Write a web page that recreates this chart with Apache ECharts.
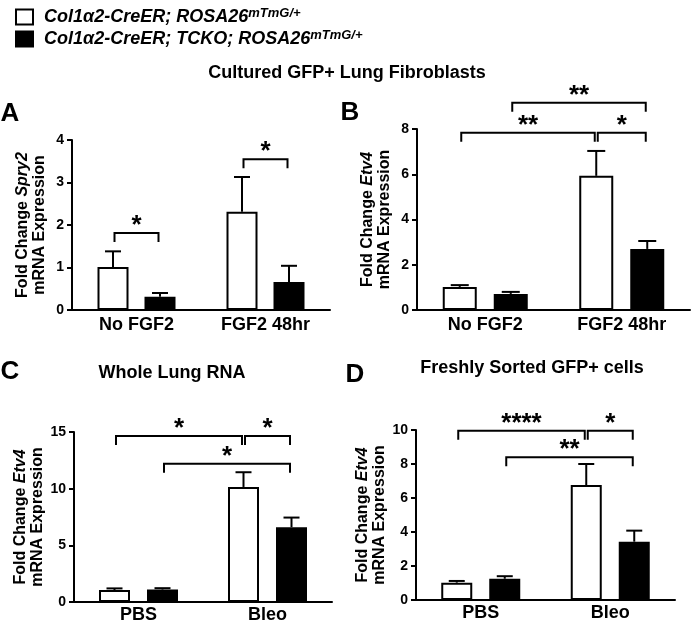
<!DOCTYPE html>
<html><head><meta charset="utf-8">
<script src="https://cdn.jsdelivr.net/npm/echarts@6/dist/echarts.min.js"></script>
<style>html,body{margin:0;padding:0;background:#fff}#c{width:693px;height:627px}</style>
</head><body><div id="c"></div>
<script>
// ---------- DATA ----------
const seriesNames = ['Col1α2-CreER; ROSA26mTmG/+', 'Col1α2-CreER; TCKO; ROSA26mTmG/+'];

const catsAB = ['No FGF2', 'FGF2 48hr'];
const catsCD = ['PBS', 'Bleo'];

// Panel A (Spry2, cultured fibroblasts)
const aControl = [1.01, 2.31];
const aControlErr = [0.37, 0.82];
const aTcko = [0.31, 0.66];
const aTckoErr = [0.09, 0.38];
const aTicks = [0, 1, 2, 3, 4];
// [catFrom, seriesFrom, catTo, seriesTo, level, label]
const aBrackets = [[0, 0, 0, 1, 1.81, '*'], [1, 0, 1, 1, 3.55, '*']];

// Panel B (Etv4, cultured fibroblasts)
const bControl = [1.02, 5.93];
const bControlErr = [0.08, 1.10];
const bTcko = [0.71, 2.70];
const bTckoErr = [0.09, 0.35];
const bTicks = [0, 2, 4, 6, 8];
const bBrackets = [[0, 0, 1, 0, 7.83, '**'], [1, 0, 1, 1, 7.83, '*'], [0, 1, 1, 1, 9.16, '**']];

// Panel C (Etv4, whole lung RNA)
const cControl = [1.05, 10.15];
const cControlErr = [0.15, 1.30];
const cTcko = [1.10, 6.60];
const cTckoErr = [0.12, 0.85];
const cTicks = [0, 5, 10, 15];
const cBrackets = [[0, 0, 1, 0, 14.65, '*'], [1, 0, 1, 1, 14.65, '*'], [0, 1, 1, 1, 12.2, '*']];

// Panel D (Etv4, freshly sorted GFP+ cells)
const dControl = [1.02, 6.76];
const dControlErr = [0.10, 1.24];
const dTcko = [1.25, 3.43];
const dTckoErr = [0.15, 0.65];
const dTicks = [0, 2, 4, 6, 8, 10];
const dBrackets = [[0, 0, 1, 0, 9.95, '****'], [1, 0, 1, 1, 9.95, '*'], [0, 1, 1, 1, 8.4, '**']];

const yNames = ['Spry2', 'Etv4', 'Etv4', 'Etv4'];
const titles = ['Cultured GFP+ Lung Fibroblasts', 'Whole Lung RNA', 'Freshly Sorted GFP+ cells'];
const letters = ['A', 'B', 'C', 'D'];

// ---------- LAYOUT ----------
const FONT = '"Liberation Sans", Arial, Helvetica, sans-serif';
const panels = [
  {cats: catsAB, ctl: aControl, ctlE: aControlErr, tk: aTcko, tkE: aTckoErr, ticks: aTicks, br: aBrackets,
   grid: {left: 72, top: 140, width: 258, height: 170}, bw: 31, gap: 16, cap: 16, lblMargin: 6},
  {cats: catsAB, ctl: bControl, ctlE: bControlErr, tk: bTcko, tkE: bTckoErr, ticks: bTicks, br: bBrackets,
   grid: {left: 417, top: 129, width: 273, height: 181}, bw: 34, gap: 17, cap: 18, lblMargin: 6},
  {cats: catsCD, ctl: cControl, ctlE: cControlErr, tk: cTcko, tkE: cTckoErr, ticks: cTicks, br: cBrackets,
   grid: {left: 74, top: 432, width: 258, height: 170}, bw: 31, gap: 17, cap: 16, lblMargin: 4},
  {cats: catsCD, ctl: dControl, ctlE: dControlErr, tk: dTcko, tkE: dTckoErr, ticks: dTicks, br: dBrackets,
   grid: {left: 416, top: 430, width: 259, height: 170}, bw: 31, gap: 17, cap: 16, lblMargin: 4}
];

const grids = [], xAxes = [], yAxes = [], series = [];

panels.forEach((p, i) => {
  const off = (p.bw + p.gap) / 2;
  grids.push(Object.assign({outerBoundsMode: 'none', containLabel: false}, p.grid));
  xAxes.push({
    type: 'category', gridIndex: i, data: p.cats,
    axisLine: {lineStyle: {color: '#000', width: 2}},
    axisTick: {alignWithLabel: true, length: 5, lineStyle: {color: '#000', width: 2}},
    axisLabel: {color: '#000', fontWeight: 'bold', fontSize: 18, fontFamily: FONT, margin: p.lblMargin},
    splitLine: {show: false}
  });
  const t = p.ticks;
  yAxes.push({
    type: 'value', gridIndex: i, min: t[0], max: t[t.length - 1], interval: t[1] - t[0],
    axisLine: {show: true, lineStyle: {color: '#000', width: 2}},
    axisTick: {show: true, length: 5, lineStyle: {color: '#000', width: 2}},
    axisLabel: {color: '#000', fontWeight: 'bold', fontSize: 14, fontFamily: FONT, margin: 8},
    splitLine: {show: false},
    name: '{n|Fold Change }{i|' + yNames[i] + '}\n{n|mRNA Expression}',
    nameLocation: 'middle', nameRotate: 90, nameGap: 24,
    nameTextStyle: {
      color: '#000', fontWeight: 'bold', fontSize: 16, fontFamily: FONT, lineHeight: 17,
      rich: {
        n: {color: '#000', fontWeight: 'bold', fontSize: 16, fontFamily: FONT, lineHeight: 17},
        i: {color: '#000', fontWeight: 'bold', fontStyle: 'italic', fontSize: 16, fontFamily: FONT, lineHeight: 17}
      }
    }
  });
  const groups = [[p.ctl, p.ctlE, '#fff', -1, 0], [p.tk, p.tkE, '#000', 1, 1]];
  groups.forEach(([vals, errs, fill, sign, si]) => {
    series.push({
      type: 'bar', name: seriesNames[si], xAxisIndex: i, yAxisIndex: i, data: vals,
      barWidth: p.bw, barGap: (p.gap / p.bw * 100) + '%',
      itemStyle: {color: fill, borderColor: '#000', borderWidth: 2},
      emphasis: {disabled: true}, z: 2
    });
  });
  groups.forEach(([vals, errs, fill, sign]) => {
    series.push({
      type: 'custom', xAxisIndex: i, yAxisIndex: i, z: 3, silent: true,
      data: vals.map((v, k) => [k, v, errs[k]]),
      encode: {x: 0, y: 1},
      renderItem: function (params, api) {
        const c = api.coord([api.value(0), api.value(1)]);
        const e = api.coord([api.value(0), api.value(1) + api.value(2)]);
        const x = c[0] + sign * off;
        const h = p.cap / 2;
        return {type: 'group', children: [
          {type: 'line', shape: {x1: x, y1: c[1], x2: x, y2: e[1]}, style: {stroke: '#000', lineWidth: 2}},
          {type: 'line', shape: {x1: x - h, y1: e[1], x2: x + h, y2: e[1]}, style: {stroke: '#000', lineWidth: 2}}
        ]};
      }
    });
  });
  // significance brackets
  series.push({
    type: 'custom', xAxisIndex: i, yAxisIndex: i, z: 4, silent: true, clip: false,
    data: p.br.map(b => [b[0], b[4], b[2]]),
    encode: {x: [0, 2], y: 1},
    renderItem: function (params, api) {
      const b = p.br[params.dataIndex];
      const p1 = api.coord([b[0], b[4]]);
      const p2 = api.coord([b[2], b[4]]);
      const x1 = p1[0] + (b[1] ? off : -off) + 1.5;
      const x2 = p2[0] + (b[3] ? off : -off) - 1.5;
      const y = p1[1];
      const drop = 9;
      return {type: 'group', children: [
        {type: 'polyline', shape: {points: [[x1, y + drop], [x1, y], [x2, y], [x2, y + drop]]},
         style: {stroke: '#000', lineWidth: 2, fill: null}},
        {type: 'text', x: (x1 + x2) / 2, y: y + 6,
         style: {text: b[5], fill: '#000', fontSize: 26, fontWeight: 'bold', fontFamily: FONT,
                 align: 'center', verticalAlign: 'bottom'}}
      ]};
    }
  });
});

const graphics = [];
const titlePos = [[347, 73], [172, 373], [532, 368]];
titles.forEach((t, k) => graphics.push({
  type: 'text', x: titlePos[k][0], y: titlePos[k][1],
  style: {text: t, fill: '#000', fontSize: 18, fontWeight: 'bold', fontFamily: FONT, align: 'center', verticalAlign: 'middle'}
}));
const letterPos = [[10, 114], [350, 113], [10, 372], [355, 375]];
letters.forEach((t, k) => graphics.push({
  type: 'text', x: letterPos[k][0], y: letterPos[k][1],
  style: {text: t, fill: '#000', fontSize: 26, fontWeight: 'bold', fontFamily: FONT, align: 'center', verticalAlign: 'middle'}
}));

const legendRich = {
  sp: {width: 6},
  t: {color: '#000', fontSize: 18, fontWeight: 'bold', fontStyle: 'italic', fontFamily: FONT, lineHeight: 20},
  s: {color: '#000', fontSize: 13, fontWeight: 'bold', fontStyle: 'italic', fontFamily: FONT, verticalAlign: 'top', lineHeight: 14}
};

const option = {
  animation: false,
  backgroundColor: '#fff',
  legend: {
    data: seriesNames.map(n => ({name: n, icon: 'rect'})),
    orient: 'vertical', left: 10, top: 2, itemWidth: 17, itemHeight: 15, itemGap: 3,
    selectedMode: false,
    formatter: function (name) {
      const base = name.replace('mTmG/+', '');
      return '{sp|}{t|' + base + '}{s|mTmG/+}';
    },
    textStyle: {rich: legendRich}
  },
  grid: grids, xAxis: xAxes, yAxis: yAxes, series: series, graphic: graphics
};

const chart = echarts.init(document.getElementById('c'), null, {renderer: 'canvas'});
chart.setOption(option);
</script></body></html>
